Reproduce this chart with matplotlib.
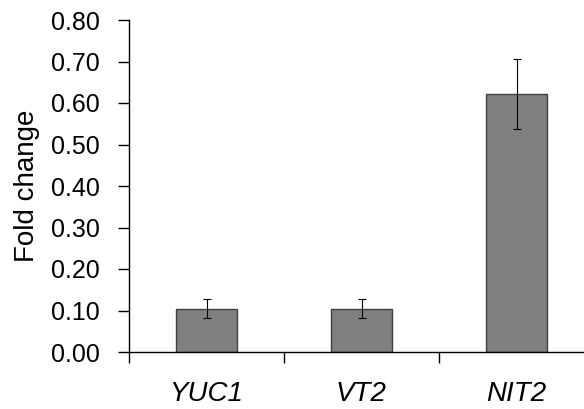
import matplotlib
matplotlib.use("Agg")
import matplotlib.pyplot as plt
from matplotlib.ticker import FixedLocator, FixedFormatter, NullFormatter

genes = ["YUC1", "VT2", "NIT2"]
fold_change = [0.104, 0.104, 0.622]
errors = [0.023, 0.023, 0.085]
yticks = [0.0, 0.1, 0.2, 0.3, 0.4, 0.5, 0.6, 0.7, 0.8]

plt.rcParams['font.family'] = ['Liberation Sans', 'DejaVu Sans']

fig = plt.figure(figsize=(5.84, 4.09), dpi=100)
ax = fig.add_axes([129/584, (409-352)/409, 465/584, 332/409])

centers = [i + 0.5 for i in range(len(genes))]
ax.bar(centers, fold_change, width=0.39, color="#808080", edgecolor="#404040", linewidth=1.0,
       yerr=errors, error_kw=dict(ecolor="black", elinewidth=0.8, capsize=3, capthick=0.8), zorder=2)

ax.set_xlim(0, 3)
ax.set_ylim(0, 0.8)
ax.set_yticks(yticks)
ax.set_yticklabels([f"{v:.2f}" for v in yticks], fontsize=18)
ax.tick_params(axis='y', direction='out', length=8, width=1, pad=13, colors='black')

ax.xaxis.set_major_locator(FixedLocator([0, 1, 2, 3]))
ax.xaxis.set_major_formatter(NullFormatter())
ax.xaxis.set_minor_locator(FixedLocator(centers))
ax.xaxis.set_minor_formatter(FixedFormatter(genes))
ax.tick_params(axis='x', which='major', direction='out', length=8, width=1)
ax.tick_params(axis='x', which='minor', length=0, pad=21, labelsize=20)
for lab in ax.get_xticklabels(minor=True):
    lab.set_fontstyle('italic')

ax.set_ylabel("Fold change", fontsize=20, labelpad=8)

for s in ["top", "right"]:
    ax.spines[s].set_visible(False)
for s in ["left", "bottom"]:
    ax.spines[s].set_linewidth(1)
    ax.spines[s].set_color("black")

fig.savefig("out.png", dpi=100)
